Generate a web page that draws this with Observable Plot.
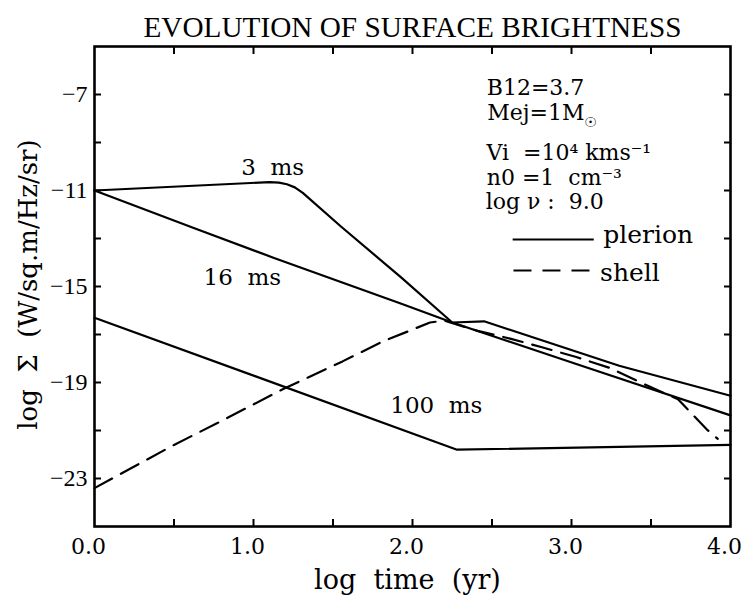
<!DOCTYPE html>
<html><head><meta charset="utf-8">
<script src="https://cdn.jsdelivr.net/npm/d3@7"></script>
<script src="https://cdn.jsdelivr.net/npm/@observablehq/plot@0.6"></script>
<style>body{margin:0;background:#fff}</style>
</head><body><div id="chart"></div>
<script>
// ---- texts ----
const titleText = "EVOLUTION OF SURFACE BRIGHTNESS";
const xLabelText = "log  time  (yr)";
const yLabelText = "log  Σ  (W/sq.m/Hz/sr)";

// ---- axes ----
const xTickValues = [0, 1, 2, 3, 4];
const xMinorTicks = [0.5, 1, 1.5, 2, 2.5, 3, 3.5];
const yTickValues = [-7, -11, -15, -19, -23];
const yMinorTicks = [-23, -21, -19, -17, -15, -13, -11, -9, -7];

// ---- plerion curves (log time, log Sigma) ----
const t3ms = [0, 1.1, 1.16, 1.21, 1.26, 1.31, 1.55, 1.93, 2.25, 2.45, 3.3, 4.0];
const s3ms = [-11, -10.65, -10.67, -10.74, -10.87, -11.1, -12.5, -14.63, -16.5, -16.45, -18.3, -19.55];

const t16ms = [0, 0.62, 1.125, 1.93, 2.25, 3.03, 4.0];
const s16ms = [-11, -12.55, -13.8, -15.72, -16.5, -18.23, -20.37];

const t100ms = [0, 2.28, 4.0];
const s100ms = [-16.3, -21.8, -21.6];

// ---- shell curve ----
const tShell = [0, 0.5, 0.77, 1.19, 1.56, 1.81, 2.11, 2.2, 2.41, 2.62, 2.82, 3.03, 3.24, 3.45, 3.67, 3.85, 3.92];
const sShell = [-23.4, -21.6, -20.7, -19.26, -18.12, -17.3, -16.5, -16.42, -16.85, -17.18, -17.54, -17.94, -18.39, -19.05, -19.7, -20.95, -21.35];

// ---- curve labels ----
const curveLabels = ["3  ms", "16  ms", "100  ms"];
const curveLabelX = [1.12, 0.93, 2.15];
const curveLabelY = [-10.05, -14.65, -19.97];

// ---- parameter block ----
const paramLines = ["B12=3.7", "Mej=1M", "Vi  =10⁴ kms⁻¹", "n0 =1  cm⁻³", "log ν :  9.0"];
const paramX = [2.467, 2.47, 2.465, 2.467, 2.46];
const paramY = [-6.72, -7.76, -9.45, -10.47, -11.48];
const sunSymbol = ["☉"];
const sunX = [3.12];
const sunY = [-8.15];

// ---- legend ----
const legendNames = ["plerion", "shell"];
const legendX1 = [2.63, 2.635];
const legendX2 = [3.14, 3.145];
const legendY = [-13.04, -14.33];
const legendTextX = [3.2, 3.18];
const legendTextY = [-12.87, -14.42];

// build tables
const plerion = [
  ...t3ms.map((t, i) => ({run: "3 ms", t, s: s3ms[i]})),
  ...t16ms.map((t, i) => ({run: "16 ms", t, s: s16ms[i]})),
  ...t100ms.map((t, i) => ({run: "100 ms", t, s: s100ms[i]}))
];
const shell = tShell.map((t, i) => ({t, s: sShell[i]}));
const labels = curveLabels.map((text, i) => ({text, x: curveLabelX[i], y: curveLabelY[i]}));
const params = paramLines.map((text, i) => ({text, x: paramX[i], y: paramY[i]}));
const sun = sunSymbol.map((text, i) => ({text, x: sunX[i], y: sunY[i]}));
const legend = legendNames.map((name, i) => ({name, x1: legendX1[i], x2: legendX2[i], y: legendY[i], tx: legendTextX[i], ty: legendTextY[i]}));

const serif = "DejaVu Serif";
const times = "Liberation Serif";

const chart = Plot.plot({
  width: 744,
  height: 598,
  marginLeft: 94,
  marginRight: 14,
  marginTop: 46,
  marginBottom: 72,
  style: {background: "#fff", color: "#000"},
  x: {domain: [0, 4]},
  y: {domain: [-25, -5]},
  marks: [
    Plot.frame({stroke: "#000", strokeWidth: 2.6}),
    // inward ticks
    Plot.axisX({anchor: "bottom", ticks: xMinorTicks, tickSize: -7, tickFormat: () => "", strokeWidth: 2, label: null}),
    Plot.axisX({anchor: "top", ticks: xMinorTicks, tickSize: -7, tickFormat: () => "", strokeWidth: 2, label: null}),
    Plot.axisY({anchor: "left", ticks: yMinorTicks, tickSize: -7, tickFormat: () => "", strokeWidth: 2, label: null}),
    Plot.axisY({anchor: "right", ticks: yMinorTicks, tickSize: -7, tickFormat: () => "", strokeWidth: 2, label: null}),
    // tick labels
    Plot.axisX({anchor: "bottom", ticks: xTickValues, tickSize: 0, tickPadding: 12, dx: -6, tickFormat: d => d.toFixed(1), fontSize: 22, fontFamily: serif, label: null}),
    Plot.axisY({anchor: "left", ticks: yTickValues, tickSize: 0, tickPadding: 7, tickFormat: d3.format("d"), fontSize: 24, fontFamily: times, label: null}),
    // curves
    Plot.line(plerion, {x: "t", y: "s", z: "run", stroke: "#000", strokeWidth: 2.2}),
    Plot.line(shell, {x: "t", y: "s", stroke: "#000", strokeWidth: 2.2, strokeDasharray: "20,10"}),
    // curve labels
    Plot.text(labels, {x: "x", y: "y", text: "text", fontSize: 23, fontFamily: serif, fill: "#000"}),
    // parameter block
    Plot.text(params, {x: "x", y: "y", text: "text", textAnchor: "start", fontSize: 22, fontFamily: serif, fill: "#000"}),
    Plot.text(sun, {x: "x", y: "y", text: "text", textAnchor: "middle", fontSize: 14, fontFamily: "DejaVu Sans", fill: "#000"}),
    // legend
    Plot.link(legend.slice(0, 1), {x1: "x1", x2: "x2", y1: "y", y2: "y", stroke: "#000", strokeWidth: 2}),
    Plot.link(legend.slice(1), {x1: "x1", x2: "x2", y1: "y", y2: "y", stroke: "#000", strokeWidth: 2, strokeDasharray: "18,11"}),
    Plot.text(legend, {x: "tx", y: "ty", text: "name", textAnchor: "start", fontSize: 25, fontFamily: serif, fill: "#000"}),
    // title and axis labels
    Plot.text([titleText], {text: d => d, frameAnchor: "top", lineAnchor: "middle", textAnchor: "middle", dy: -19, fontSize: 30, fontFamily: times, fill: "#000"}),
    Plot.text([xLabelText], {text: d => d, frameAnchor: "bottom", lineAnchor: "middle", textAnchor: "middle", dy: 54, dx: -5, fontSize: 27, fontFamily: serif, fill: "#000"}),
    Plot.text([yLabelText], {text: d => d, frameAnchor: "left", lineAnchor: "middle", textAnchor: "middle", dx: -66, dy: -2, rotate: -90, fontSize: 26, fontFamily: serif, fill: "#000"})
  ]
});

d3.select(chart).selectAll("text").filter(function() { return this.textContent === titleText; })
  .attr("textLength", 538).attr("lengthAdjust", "spacingAndGlyphs");

document.getElementById("chart").appendChild(chart);
</script>
</body></html>
